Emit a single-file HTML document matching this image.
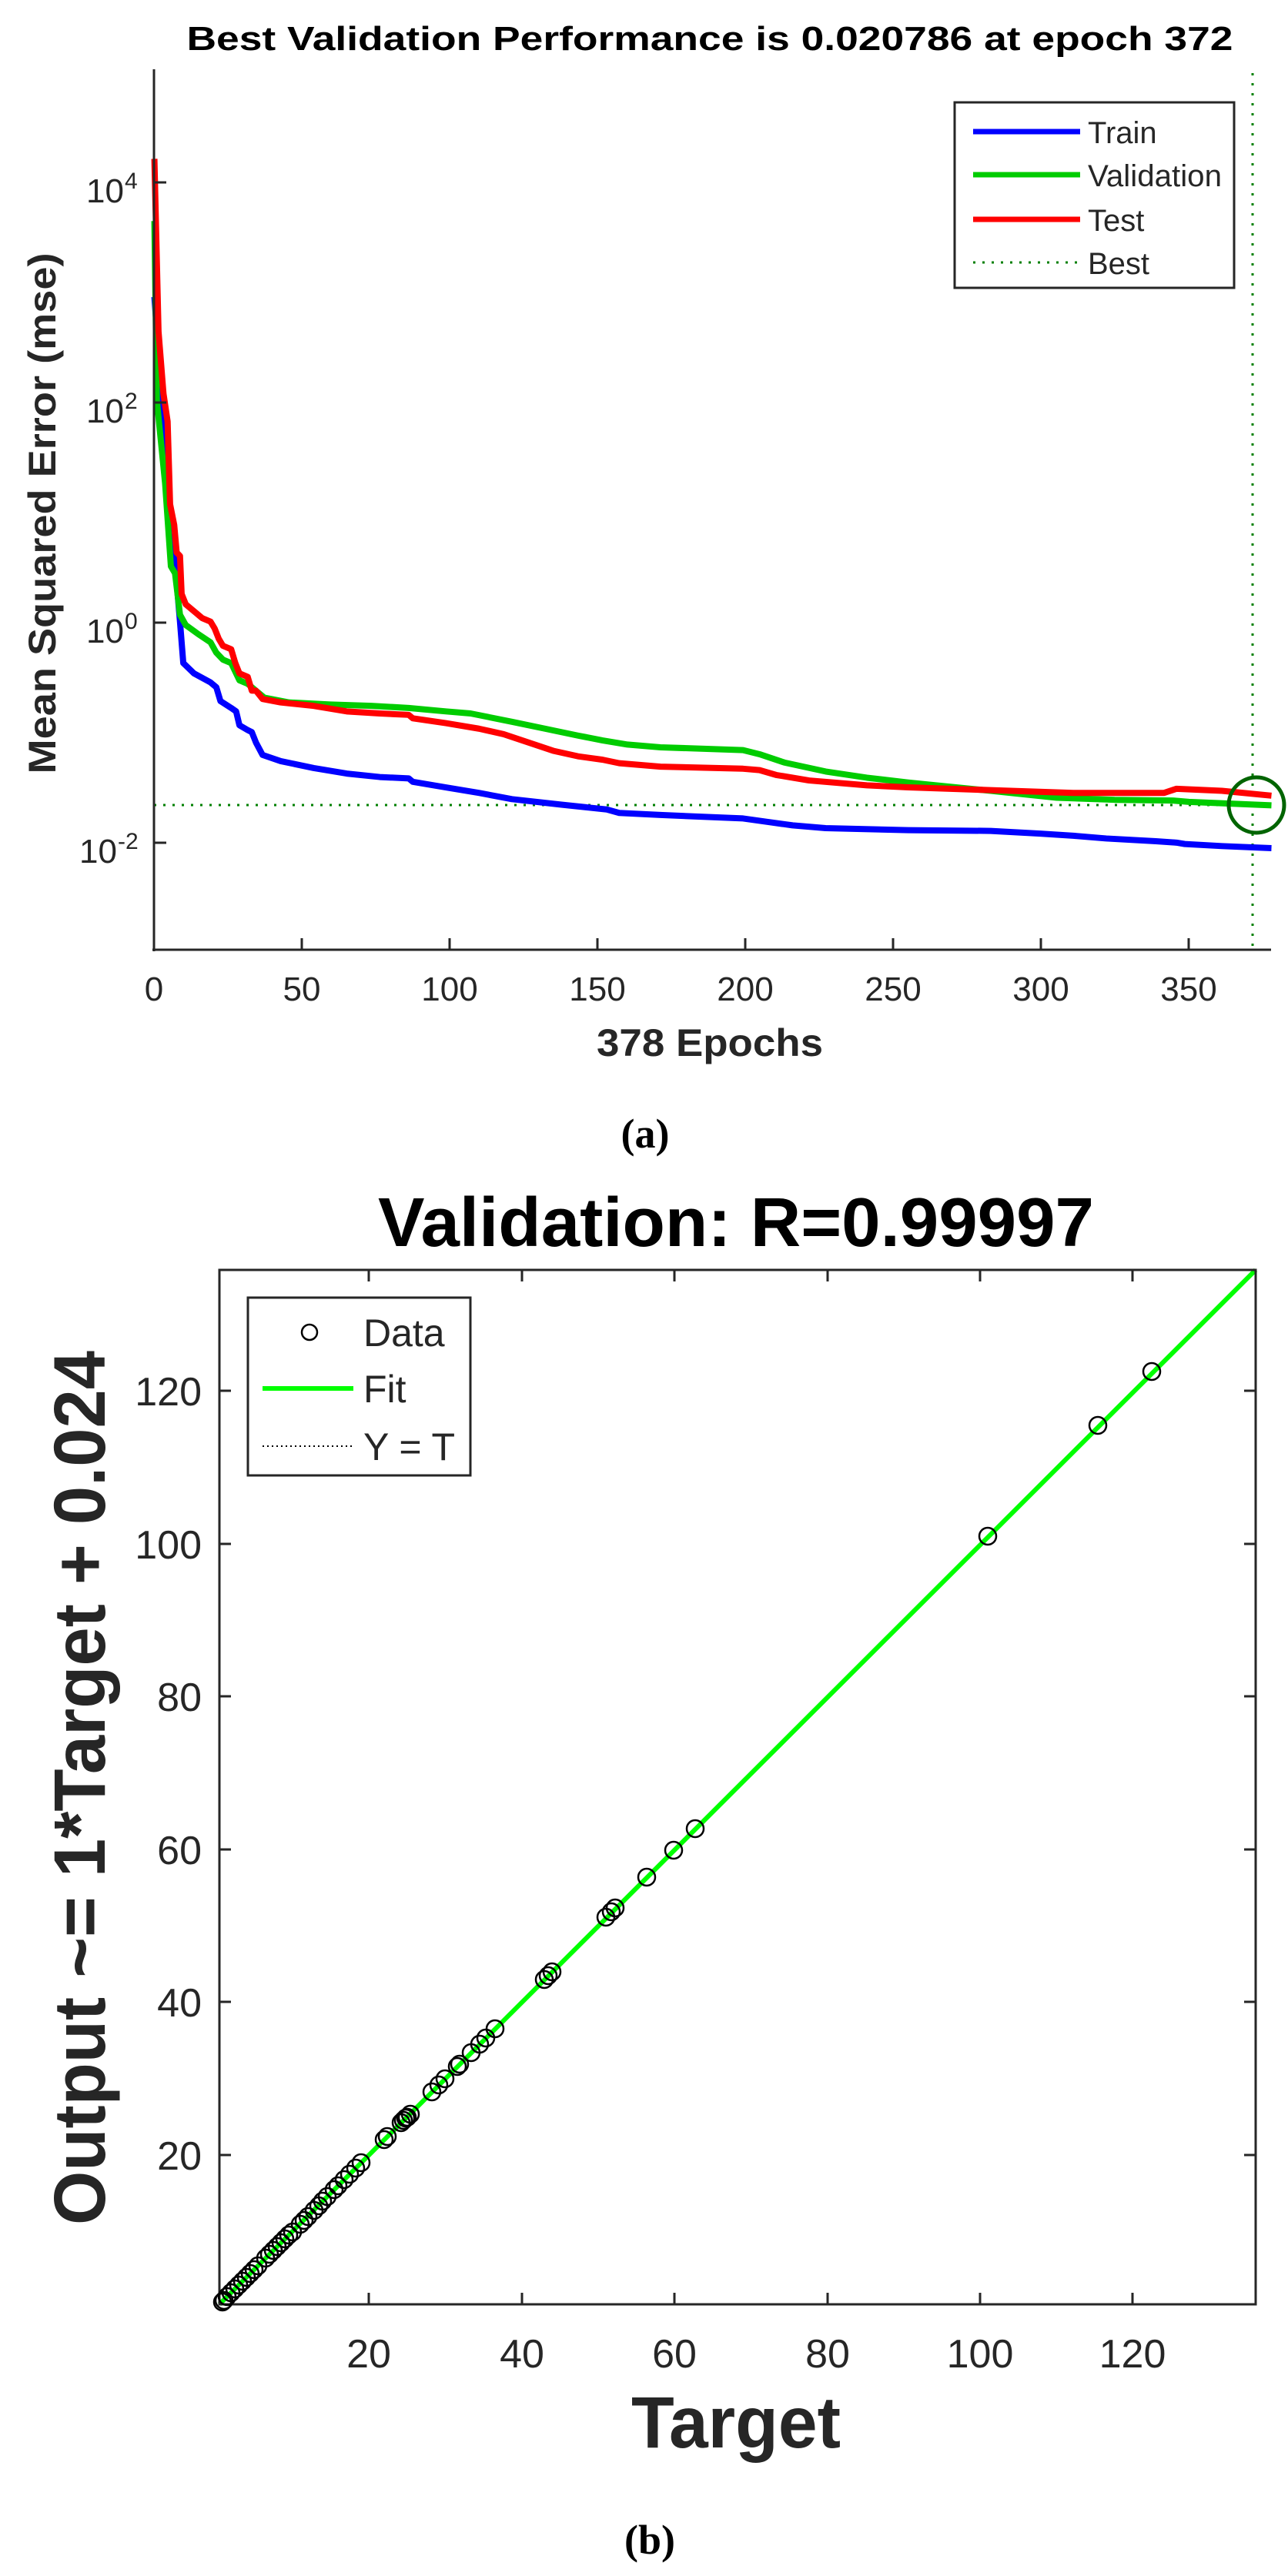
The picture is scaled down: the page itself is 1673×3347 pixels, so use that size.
<!DOCTYPE html>
<html><head><meta charset="utf-8"><style>
html,body{margin:0;padding:0;background:#fff}
svg{display:block}
text{font-family:"Liberation Sans",Arial,sans-serif;fill:#262626}
</style></head><body>
<svg width="1673" height="3347" viewBox="0 0 1673 3347" xmlns="http://www.w3.org/2000/svg">
<rect width="1673" height="3347" fill="#fff"/>

<!-- ===== TOP PLOT ===== -->
<text x="922" y="65" text-anchor="middle" font-weight="bold" font-size="44" style="fill:#000" textLength="1359" lengthAdjust="spacingAndGlyphs">Best Validation Performance is 0.020786 at epoch 372</text>

<line x1="200" y1="1046" x2="1651" y2="1046" stroke="#007f00" stroke-width="3" stroke-dasharray="3,9"/>
<line x1="1627" y1="95" x2="1627" y2="1234" stroke="#007f00" stroke-width="3" stroke-dasharray="3,10"/>

<g transform="matrix(1.0724,0,0,0.8974,0,0)" fill="none" stroke-linejoin="round">
<polyline vector-effect="non-scaling-stroke" stroke="#0000ff" stroke-width="8" points="187,430 205,720 213,830 218,900 222,960 235,975 255,988 262,995 267,1015 280,1025 286,1030 290,1050 300,1057 305,1060 310,1075 318,1093 340,1102 380,1112 420,1120 460,1125 495,1127 500,1132 540,1140 580,1148 620,1157 680,1165 735,1172 750,1177 800,1180 900,1185 930,1190 960,1195 1000,1199 1100,1202 1200,1203 1260,1207 1300,1210 1340,1214 1400,1218 1425,1220 1435,1222 1480,1225 1540,1228"/>
<polyline vector-effect="non-scaling-stroke" stroke="#00cc00" stroke-width="8" points="187,320 190,580 200,700 207,820 212,830 218,890 225,905 240,918 255,930 262,945 270,955 280,960 290,985 300,990 310,1000 320,1010 350,1017 400,1020 450,1022 495,1025 540,1030 570,1033 620,1045 660,1055 700,1065 730,1072 760,1078 800,1082 900,1086 920,1092 950,1104 1000,1117 1050,1126 1100,1133 1200,1145 1280,1155 1350,1158 1420,1159 1440,1161 1540,1166"/>
<polyline vector-effect="non-scaling-stroke" stroke="#ff0000" stroke-width="8" points="187,230 192,480 198,570 203,610 206,730 211,760 214,800 218,805 220,860 225,875 235,885 245,895 255,900 260,910 265,925 270,935 280,940 285,960 290,975 300,980 305,1000 310,1000 318,1012 340,1017 380,1022 420,1030 460,1033 495,1035 500,1040 540,1047 580,1055 610,1063 640,1075 670,1087 700,1095 730,1100 750,1105 800,1110 900,1113 920,1115 940,1122 980,1130 1050,1137 1100,1140 1200,1144 1300,1148 1410,1148 1425,1142 1480,1145 1540,1152"/>
</g>
<circle cx="1632" cy="1046" r="36" fill="none" stroke="#006400" stroke-width="5"/>

<g stroke="#262626" stroke-width="3" fill="none">
<line x1="200" y1="90" x2="200" y2="1236"/>
<line x1="198" y1="1234" x2="1651" y2="1234"/>
<path d="M200 237h16M200 523h16M200 809h16M200 1095h16"/>
<path d="M392 1234v-15M584 1234v-15M776 1234v-15M968 1234v-15M1160 1234v-15M1352 1234v-15M1544 1234v-15"/>
</g>
<g font-size="44" text-anchor="middle">
<text x="200" y="1300">0</text><text x="392" y="1300">50</text><text x="584" y="1300">100</text><text x="776" y="1300">150</text><text x="968" y="1300">200</text><text x="1160" y="1300">250</text><text x="1352" y="1300">300</text><text x="1544" y="1300">350</text>
</g>
<g font-size="44">
<text x="112" y="263">10</text><text x="162" y="245" font-size="30">4</text>
<text x="112" y="549">10</text><text x="162" y="531" font-size="30">2</text>
<text x="112" y="835">10</text><text x="162" y="817" font-size="30">0</text>
<text x="103" y="1121">10</text><text x="153" y="1103" font-size="30">-2</text>
</g>
<text x="922" y="1372" text-anchor="middle" font-weight="bold" font-size="50" textLength="294" lengthAdjust="spacingAndGlyphs">378 Epochs</text>
<text transform="translate(72,667) rotate(-90)" text-anchor="middle" font-weight="bold" font-size="50" textLength="677" lengthAdjust="spacingAndGlyphs">Mean Squared Error  (mse)</text>

<rect x="1240" y="133" width="363" height="241" fill="#fff" stroke="#262626" stroke-width="3"/>
<line x1="1264" y1="171" x2="1403" y2="171" stroke="#0000ff" stroke-width="7"/>
<line x1="1264" y1="227" x2="1403" y2="227" stroke="#00cc00" stroke-width="7"/>
<line x1="1264" y1="285" x2="1403" y2="285" stroke="#ff0000" stroke-width="7"/>
<line x1="1264" y1="341" x2="1403" y2="341" stroke="#007f00" stroke-width="3" stroke-dasharray="3,9"/>
<g font-size="40">
<text x="1413" y="186">Train</text>
<text x="1413" y="242" textLength="174" lengthAdjust="spacingAndGlyphs">Validation</text>
<text x="1413" y="300">Test</text>
<text x="1413" y="356">Best</text>
</g>

<text x="838" y="1491" text-anchor="middle" font-weight="bold" font-size="54" style="font-family:'Liberation Serif',serif;fill:#000">(a)</text>

<!-- ===== BOTTOM PLOT ===== -->
<text x="956" y="1619" text-anchor="middle" font-weight="bold" font-size="90" style="fill:#000" textLength="930" lengthAdjust="spacingAndGlyphs">Validation: R=0.99997</text>

<line x1="285" y1="2994" x2="1631" y2="1650" stroke="#000" stroke-width="2" stroke-dasharray="2,4"/>
<line x1="285" y1="2994" x2="1631" y2="1650" stroke="#00ff00" stroke-width="6"/>

<g stroke="#262626" stroke-width="3" fill="none">
<rect x="285" y="1650" width="1346" height="1344"/>
<path d="M479 2994v-15M678 2994v-15M876 2994v-15M1075 2994v-15M1273 2994v-15M1471 2994v-15"/>
<path d="M479 1650v15M678 1650v15M876 1650v15M1075 1650v15M1273 1650v15M1471 1650v15"/>
<path d="M285 2800h15M285 2601h15M285 2403h15M285 2204h15M285 2006h15M285 1807h15"/>
<path d="M1631 2800h-15M1631 2601h-15M1631 2403h-15M1631 2204h-15M1631 2006h-15M1631 1807h-15"/>
</g>
<g font-size="52" text-anchor="middle">
<text x="479" y="3076">20</text><text x="678" y="3076">40</text><text x="876" y="3076">60</text><text x="1075" y="3076">80</text><text x="1273" y="3076">100</text><text x="1471" y="3076">120</text>
</g>
<g font-size="52" text-anchor="end">
<text x="262" y="2819">20</text><text x="262" y="2620">40</text><text x="262" y="2422">60</text><text x="262" y="2223">80</text><text x="262" y="2025">100</text><text x="262" y="1826">120</text>
</g>
<text x="956" y="3180" text-anchor="middle" font-weight="bold" font-size="95" textLength="272" lengthAdjust="spacingAndGlyphs">Target</text>
<text transform="translate(136,2323) rotate(-90)" text-anchor="middle" font-weight="bold" font-size="95" textLength="1136" lengthAdjust="spacingAndGlyphs">Output ~= 1*Target + 0.024</text>

<rect x="322" y="1686" width="289" height="231" fill="#fff" stroke="#262626" stroke-width="3"/>
<circle cx="402" cy="1731" r="10" fill="none" stroke="#000" stroke-width="2.5"/>
<line x1="341" y1="1804" x2="459" y2="1804" stroke="#00ff00" stroke-width="6"/>
<line x1="341" y1="1879" x2="459" y2="1879" stroke="#000" stroke-width="2" stroke-dasharray="2,4"/>
<g font-size="50">
<text x="472" y="1749">Data</text>
<text x="472" y="1822">Fit</text>
<text x="472" y="1897">Y = T</text>
</g>

<text x="844" y="3318" text-anchor="middle" font-weight="bold" font-size="54" style="font-family:'Liberation Serif',serif;fill:#000">(b)</text>

<g fill="none" stroke="#000" stroke-width="2.5">
<circle cx="1496" cy="1782" r="11"/><circle cx="1426" cy="1852" r="11"/><circle cx="1283" cy="1996" r="11"/>
<circle cx="903" cy="2376" r="11"/><circle cx="875" cy="2404" r="11"/><circle cx="840" cy="2439" r="11"/>
<circle cx="799" cy="2479" r="11"/><circle cx="794" cy="2484" r="11"/><circle cx="787" cy="2491" r="11"/>
<circle cx="717" cy="2562" r="11"/><circle cx="712" cy="2567" r="11"/><circle cx="707" cy="2572" r="11"/>
<circle cx="643" cy="2636" r="11"/><circle cx="631" cy="2648" r="11"/><circle cx="623" cy="2656" r="11"/>
<circle cx="612" cy="2667" r="11"/><circle cx="597" cy="2682" r="11"/><circle cx="594" cy="2685" r="11"/>
<circle cx="578" cy="2701" r="11"/><circle cx="570" cy="2709" r="11"/><circle cx="561" cy="2718" r="11"/>
<circle cx="533" cy="2747" r="11"/><circle cx="529" cy="2751" r="11"/><circle cx="527" cy="2752" r="11"/>
<circle cx="524" cy="2755" r="11"/><circle cx="521" cy="2758" r="11"/><circle cx="503" cy="2776" r="11"/>
<circle cx="499" cy="2780" r="11"/><circle cx="469" cy="2810" r="11"/><circle cx="462" cy="2817" r="11"/>
<circle cx="454" cy="2825" r="11"/><circle cx="447" cy="2832" r="11"/><circle cx="439" cy="2840" r="11"/>
<circle cx="434" cy="2845" r="11"/><circle cx="425" cy="2854" r="11"/><circle cx="419" cy="2860" r="11"/>
<circle cx="414" cy="2866" r="11"/><circle cx="408" cy="2872" r="11"/><circle cx="400" cy="2880" r="11"/>
<circle cx="395" cy="2885" r="11"/><circle cx="390" cy="2890" r="11"/><circle cx="380" cy="2900" r="11"/>
<circle cx="375" cy="2904" r="11"/><circle cx="370" cy="2909" r="11"/><circle cx="365" cy="2914" r="11"/>
<circle cx="360" cy="2919" r="11"/><circle cx="355" cy="2924" r="11"/><circle cx="350" cy="2929" r="11"/>
<circle cx="345" cy="2934" r="11"/><circle cx="335" cy="2944" r="11"/><circle cx="330" cy="2949" r="11"/>
<circle cx="325" cy="2954" r="11"/><circle cx="320" cy="2959" r="11"/><circle cx="315" cy="2964" r="11"/>
<circle cx="310" cy="2969" r="11"/><circle cx="305" cy="2974" r="11"/><circle cx="300" cy="2979" r="11"/>
<circle cx="295" cy="2984" r="11"/><circle cx="291" cy="2989" r="11"/><circle cx="289" cy="2991" r="11"/>
</g>
</svg>
</body></html>
